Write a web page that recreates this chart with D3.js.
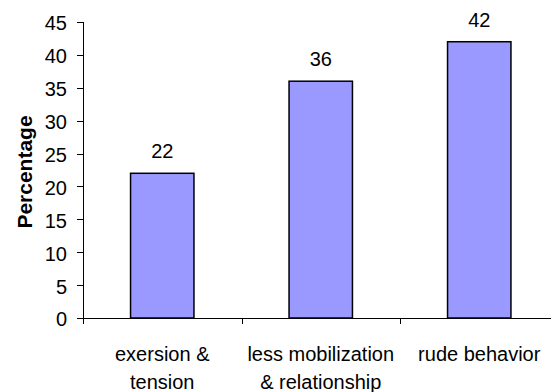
<!DOCTYPE html>
<html><head><meta charset="utf-8">
<script src="https://cdn.jsdelivr.net/npm/d3@7"></script>
<style>body{margin:0;background:#fff}svg{display:block}text{font-family:"Liberation Sans",Arial,sans-serif}</style>
</head><body>
<script>
const categories = [["exersion &","tension"],["less mobilization","& relationship"],["rude behavior"]];
const values = [22, 36, 42];
const yTicks = [0,5,10,15,20,25,30,35,40,45];

const W = 551, H = 392;
const svg = d3.select("body").append("svg").attr("width", W).attr("height", H);
const x0 = 83, y0 = 318, yTop = 22, catW = 158.5;
const x = d3.scaleBand().domain(d3.range(categories.length)).range([x0, x0 + catW*categories.length]).paddingInner(0.6).paddingOuter(0.3);
const y = d3.scaleLinear().domain([0,45]).range([y0, yTop]);

// y axis
const ya = svg.append("g");
ya.append("line").attr("x1",x0+0.5).attr("x2",x0+0.5).attr("y1",y(45)).attr("y2",y0).attr("stroke","#000");
ya.selectAll("line.t").data(yTicks).join("line").attr("class","t")
  .attr("x1",x0-6).attr("x2",x0).attr("y1",d=>Math.round(y(d))+0.5).attr("y2",d=>Math.round(y(d))+0.5).attr("stroke","#000");
ya.selectAll("text").data(yTicks).join("text")
  .attr("x",x0-16).attr("y",d=>y(d)).attr("dy","0.42em").attr("text-anchor","end")
  .attr("font-size",20).text(d=>d);

// x axis
const edges = d3.range(categories.length+1).map(i=>x0+i*catW);
svg.append("line").attr("x1",x0).attr("x2",x0+catW*categories.length).attr("y1",y0+0.5).attr("y2",y0+0.5).attr("stroke","#000");
svg.selectAll("line.xt").data(edges).join("line").attr("class","xt")
  .attr("x1",d=>Math.round(d)+0.5).attr("x2",d=>Math.round(d)+0.5).attr("y1",y0).attr("y2",y0+6).attr("stroke","#000");

// bars
svg.selectAll("rect.bar").data(values).join("rect").attr("class","bar")
  .attr("x",(d,i)=>x(i)).attr("width",x.bandwidth())
  .attr("y",d=>y(d)).attr("height",d=>y0-y(d))
  .attr("fill","#9999FF").attr("stroke","#000").attr("stroke-width",1.5);

// value labels
svg.selectAll("text.val").data(values).join("text").attr("class","val")
  .attr("x",(d,i)=>x(i)+x.bandwidth()/2).attr("y",d=>y(d)-15)
  .attr("text-anchor","middle").attr("font-size",20).text(d=>d);

// category labels
categories.forEach((lines,i)=>{
  const t = svg.append("text").attr("text-anchor","middle").attr("font-size",20)
    .attr("x", x(i)+x.bandwidth()/2).attr("y", 361);
  lines.forEach((l,j)=>t.append("tspan").attr("x",x(i)+x.bandwidth()/2).attr("dy", j===0?0:28).text(l));
});

// y label
svg.append("text").attr("transform","translate(32,172) rotate(-90)")
  .attr("text-anchor","middle").attr("font-size",21).attr("font-weight","bold").text("Percentage");
</script>
</body></html>
